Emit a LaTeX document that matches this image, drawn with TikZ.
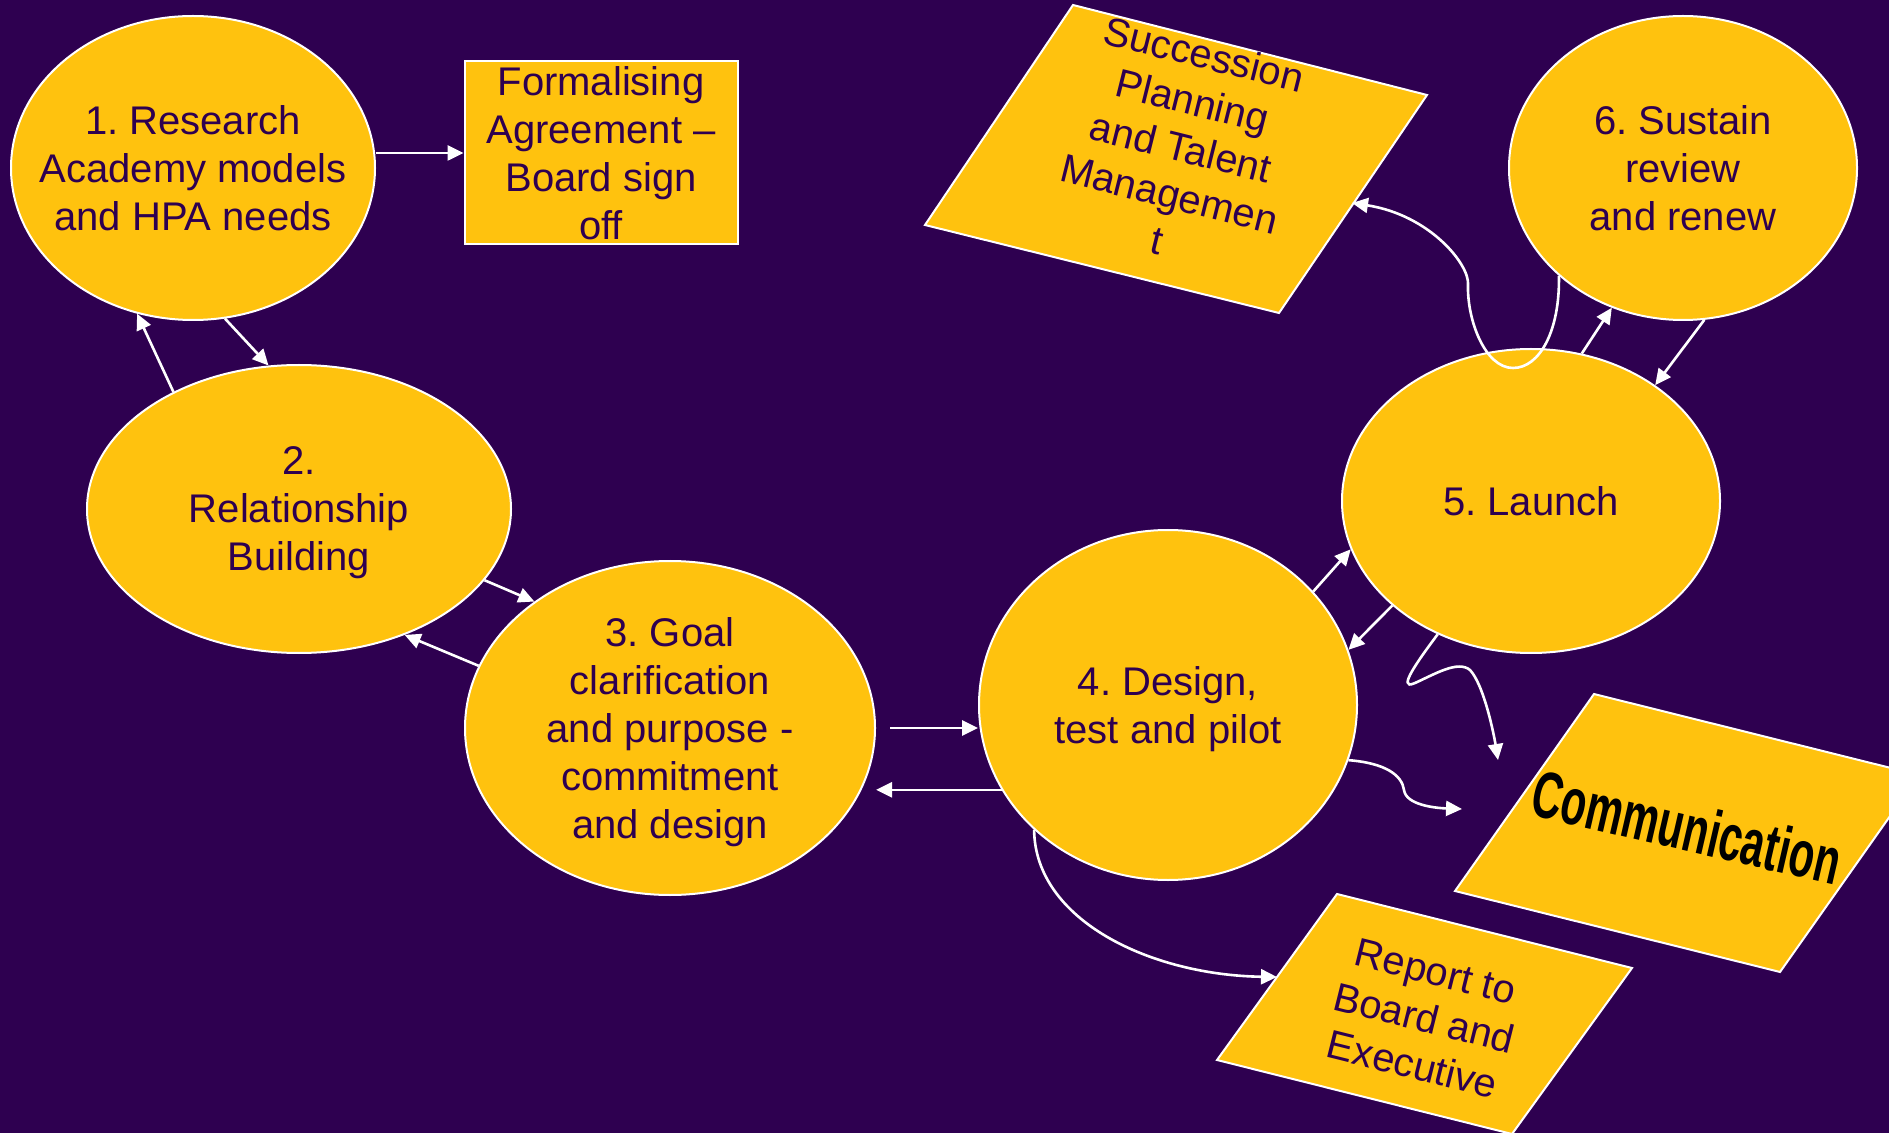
\documentclass[tikz,border=0pt]{standalone}
\usepackage{fontspec}
\setmainfont{Liberation Sans}
\usetikzlibrary{shapes,arrows.meta,positioning}
\definecolor{night}{HTML}{2E0050}
\definecolor{gold}{HTML}{FFC20E}
\frenchspacing

\begin{document}
\begin{tikzpicture}[x=0.5pt,y=-0.5pt,>={Triangle[length=8pt,width=7.5pt]},
		every node/.style={font=\fontsize{20pt}{24pt}\selectfont,text=night},
		txt/.style={align=center,text depth=0pt},
		phase/.style={txt,ellipse,draw=white,line width=1pt,fill=gold,inner sep=-20pt},
		flag/.style={draw=white,line width=1pt,fill=gold},
		link/.style={draw=white,line width=1.3pt}]
		\useasboundingbox (0,0) rectangle (1889,1133);
		\clip (0,0) rectangle (1889,1133);
		\fill[night] (0,0) rectangle (1889,1133);
		% tilted boxes
		\draw[flag] (1073,5) -- (1427,95) -- (1279,313) -- (925,225) -- cycle;
		\draw[flag] (1594,694) -- (1919,775) -- (1780,972) -- (1455,891) -- cycle;
		\draw[flag] (1337,894) -- (1632,968) -- (1512,1134) -- (1217,1060) -- cycle;
		\node[txt,rotate=-14] (succession) at (1181,147) {Succession\\Planning\\and Talent\\Managemen\\t};
		\node[rotate=-13,text=black,font=\fontsize{33pt}{36pt}\selectfont\bfseries] (communication) at (1687,827) {\scalebox{0.63}[1]{Communication}};
		\node[txt,rotate=-14] (report) at (1424,1018) {Report to\\Board and\\Executive};
		% phases
		\node[phase,minimum width=182pt,minimum height=152pt] (research) at (193,168) {1. Research\\Academy models\\and HPA needs};
		\node[phase,minimum width=212pt,minimum height=144pt] (relationship) at (299,509) {2.\\Relationship\\Building};
		\node[phase,minimum width=205pt,minimum height=167pt] (goal) at (670,728) {3. Goal\\clarification\\and purpose -\\commitment\\and design};
		\node[phase,minimum width=189pt,minimum height=175pt] (design) at (1168,705) {4. Design,\\test and pilot};
		\node[phase,minimum width=189pt,minimum height=152pt] (launch) at (1531,501) {5. Launch};
		\node[phase,minimum width=174pt,minimum height=152pt] (sustain) at (1683,168) {6. Sustain\\review\\and renew};
		\node[txt,draw=white,line width=1pt,fill=gold,minimum width=136.5pt,minimum height=91.5pt,inner sep=0pt] (formalising) at (601,153) {Formalising\\Agreement –\\Board sign\\off};
		\coordinate (succ_in) at (1352,203);
		\coordinate (comm_in_a) at (1498,760);
		\coordinate (comm_in_b) at (1462,809);
		\coordinate (report_in) at (1277,977);
		\draw[link,->] (formalising.west -| research.east) -- (formalising.west);
		\draw[link,->] (research.-78) -- (relationship.102);
		\draw[link,->] (relationship.137) -- (research.-111);
		\draw[link,->] (relationship.-21) -- (goal.137);
		\draw[link,->] (goal.162) -- (relationship.-50);
		\draw[link,->] ([xshift=7pt]goal.east) -- (goal.east -| design.west);
		\draw[link,->] (design.-153) -- (design.-153 -| goal.east);
		\draw[link,->] (design.38) -- (launch.-165);
		\draw[link,->] (launch.-143) -- (design.17);
		\draw[link,->] (launch.71) -- (sustain.-117);
		\draw[link,->] (sustain.-82) -- (launch.43);
		\draw[link,->] (sustain.-139) .. controls (1560,330) and (1540,368) .. (1513,368)
		.. controls (1485,368) and (1467,320) .. (1468,285) .. controls (1470,265) and (1430,215) .. (succ_in);
		\draw[link,->] (launch.-125) .. controls (1420,658) and (1395,692) .. (1415,683)
		.. controls (1435,674) and (1458,660) .. (1470,670) .. controls (1484,685) and (1494,735) .. (comm_in_a);
		\draw[link,->] (design.-17) .. controls (1385,763) and (1402,775) .. (1404,790)
		.. controls (1406,805) and (1435,808) .. (comm_in_b);
		\draw[link,->] (design.-137) .. controls (1035,920) and (1150,975) .. (report_in);
	\end{tikzpicture}
\end{document}
